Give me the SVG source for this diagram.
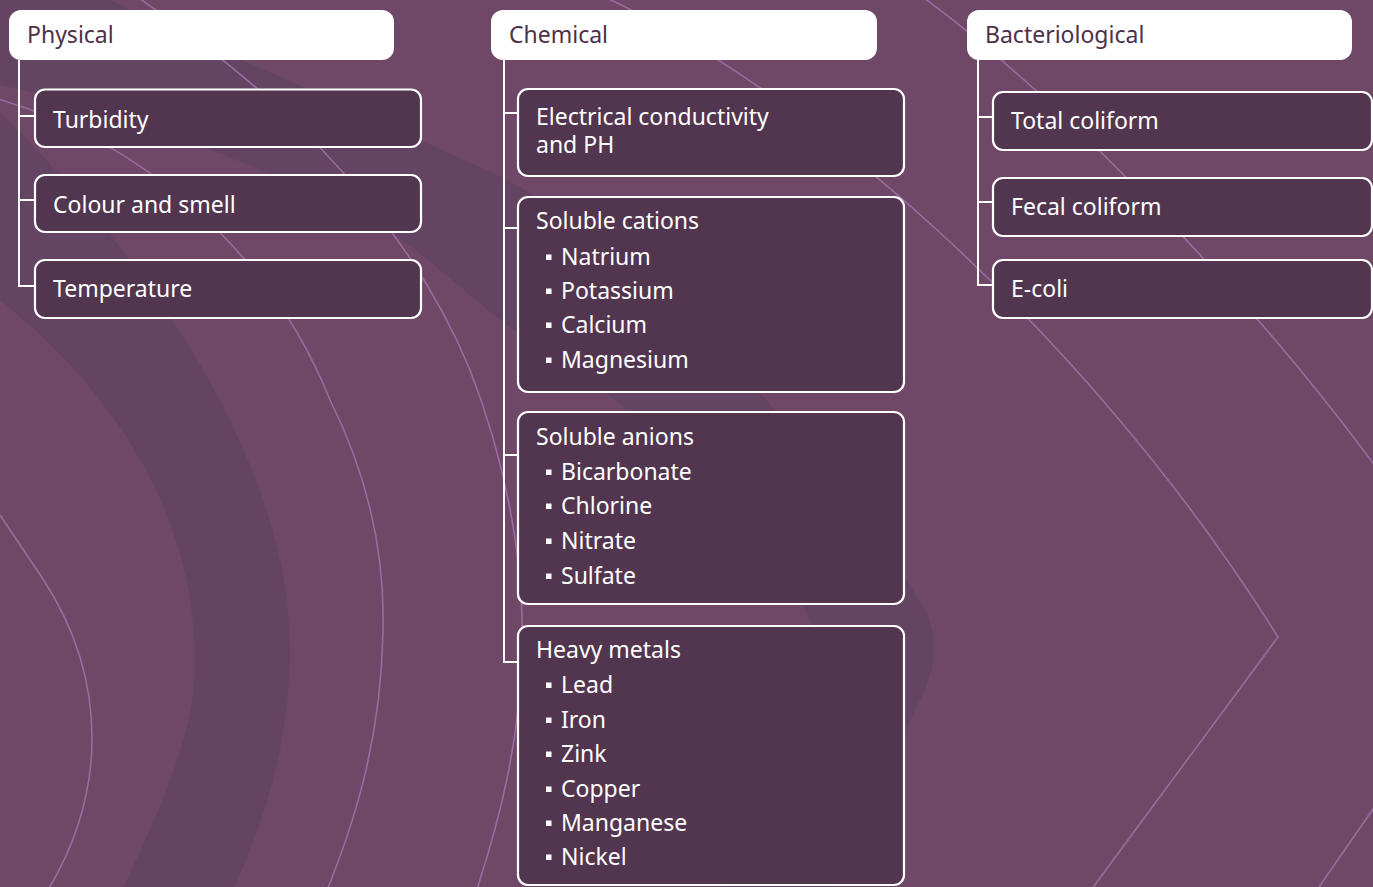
<svg xmlns="http://www.w3.org/2000/svg" width="1373" height="887" viewBox="0 0 1373 887">
<style>
.bg{fill:#6f4868}
.band{fill:#634462}
.deco{fill:none;stroke:#9b6aa0;stroke-width:1.6}
.hdr{fill:#ffffff}
.box{fill:#52364f;stroke:#ffffff;stroke-width:2.2}
.conn{fill:none;stroke:#ffffff;stroke-width:2}
.ht{font-family:"Noto Sans","Open Sans",sans-serif;font-size:23px;fill:#4d3049}
.bt{font-family:"Noto Sans","Open Sans",sans-serif;font-size:23px;fill:#ffffff}
.bul{fill:#ffffff}
</style>
<defs>
<rect id="sq" width="5.5" height="5.5" class="bul"/>
</defs>
<g id="background">
<rect class="bg" x="0" y="0" width="1373" height="887"/>
<path class="band" d="M 0,113 C 80,190 290,420 290,650 C 290,740 265,820 233,890 L 122,890 C 165,800 195,730 195,664 C 195,500 100,380 0,300 Z"/>
<path class="band" d="M 0,-50 C 150,20 300,85 380,122 C 440,150 490,170 520,187 C 700,300 860,500 925,610 Q 945,650 920,700 L 830,890 L 720,890 L 810,700 Q 830,655 805,610 C 740,500 630,400 520,334 C 470,300 430,255 380,226 C 250,160 120,110 0,85 Z"/>
<path class="deco" d="M 0,515 L 43,579 C 75,628 92,680 92,738 C 92,795 75,845 48,890"/>
<path class="deco" d="M -5,98 C 140,140 270,250 330,400 C 370,480 385,560 383,632 C 381,730 360,810 325,895"/>
<path class="deco" d="M 130,-8 C 260,80 400,200 470,370 C 505,460 525,560 522,650 C 520,740 500,820 475,895"/>
<path class="deco" d="M 600,-5 C 790,80 1080,320 1278,637 L 1091,890"/>
<path class="deco" d="M 920,-5 C 1050,90 1250,290 1400,500"/>
<path class="deco" d="M 1400,770 L 1310,900"/>
</g>
<g id="connectors">
<path class="conn" d="M 19,60 V 286 H 35 M 19,116 H 35 M 19,200 H 35"/>
<path class="conn" d="M 504,60 V 662 H 518 M 504,113 H 518 M 504,228 H 518 M 504,455 H 518"/>
<path class="conn" d="M 978,60 V 285 H 993 M 978,117 H 993 M 978,202 H 993"/>
</g>
<g id="physical">
<rect class="hdr" x="9" y="10" width="385" height="50" rx="12"/>
<text class="ht" x="27" y="43">Physical</text>
</g>
<g id="turbidity">
<rect class="box" x="35" y="89.5" width="386" height="57.5" rx="10"/>
<text class="bt" x="53" y="128">Turbidity</text>
</g>
<g id="colour-smell">
<rect class="box" x="35" y="175" width="386" height="57" rx="10"/>
<text class="bt" x="53" y="213">Colour and smell</text>
</g>
<g id="temperature">
<rect class="box" x="35" y="260" width="386" height="58" rx="10"/>
<text class="bt" x="53" y="297">Temperature</text>
</g>
<g id="chemical">
<rect class="hdr" x="491" y="10" width="386" height="50" rx="12"/>
<text class="ht" x="509" y="43">Chemical</text>
</g>
<g id="ec-ph">
<rect class="box" x="518" y="89" width="386" height="87" rx="10"/>
<text class="bt" x="536" y="125">Electrical conductivity</text>
<text class="bt" x="536" y="153">and PH</text>
</g>
<g id="cations">
<rect class="box" x="518" y="197" width="386" height="195" rx="10"/>
<text class="bt" x="536" y="229">Soluble cations</text>
<use href="#sq" x="546" y="254.5"/><text class="bt" x="561" y="265">Natrium</text>
<use href="#sq" x="546" y="288.5"/><text class="bt" x="561" y="299">Potassium</text>
<use href="#sq" x="546" y="322.5"/><text class="bt" x="561" y="333">Calcium</text>
<use href="#sq" x="546" y="357.5"/><text class="bt" x="561" y="368">Magnesium</text>
</g>
<g id="anions">
<rect class="box" x="518" y="412" width="386" height="192" rx="10"/>
<text class="bt" x="536" y="445">Soluble anions</text>
<use href="#sq" x="546" y="469.5"/><text class="bt" x="561" y="480">Bicarbonate</text>
<use href="#sq" x="546" y="503.5"/><text class="bt" x="561" y="514">Chlorine</text>
<use href="#sq" x="546" y="538.5"/><text class="bt" x="561" y="549">Nitrate</text>
<use href="#sq" x="546" y="573.5"/><text class="bt" x="561" y="584">Sulfate</text>
</g>
<g id="heavy-metals">
<rect class="box" x="518" y="626" width="386" height="259" rx="10"/>
<text class="bt" x="536" y="658">Heavy metals</text>
<use href="#sq" x="546" y="682.5"/><text class="bt" x="561" y="693">Lead</text>
<use href="#sq" x="546" y="717.5"/><text class="bt" x="561" y="728">Iron</text>
<use href="#sq" x="546" y="751.5"/><text class="bt" x="561" y="762">Zink</text>
<use href="#sq" x="546" y="786.5"/><text class="bt" x="561" y="797">Copper</text>
<use href="#sq" x="546" y="820.5"/><text class="bt" x="561" y="831">Manganese</text>
<use href="#sq" x="546" y="854.5"/><text class="bt" x="561" y="865">Nickel</text>
</g>
<g id="bacteriological">
<rect class="hdr" x="967" y="10" width="385" height="50" rx="12"/>
<text class="ht" x="985" y="43">Bacteriological</text>
</g>
<g id="total-coliform">
<rect class="box" x="993" y="92" width="379" height="58" rx="10"/>
<text class="bt" x="1011" y="129">Total coliform</text>
</g>
<g id="fecal-coliform">
<rect class="box" x="993" y="178" width="379" height="58" rx="10"/>
<text class="bt" x="1011" y="215">Fecal coliform</text>
</g>
<g id="e-coli">
<rect class="box" x="993" y="260" width="379" height="58" rx="10"/>
<text class="bt" x="1011" y="297">E-coli</text>
</g>
</svg>
